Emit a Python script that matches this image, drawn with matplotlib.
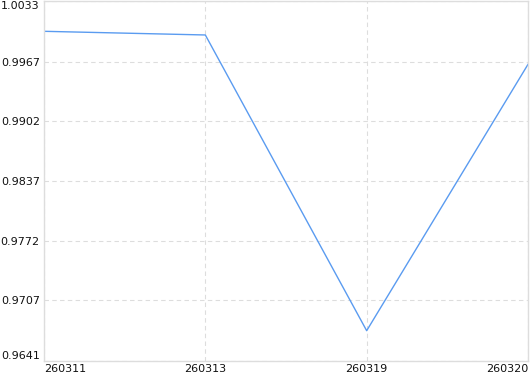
import matplotlib
matplotlib.use('Agg')
import matplotlib.pyplot as plt

dates = ['260311', '260313', '260319', '260320']
values = [1.0000, 0.9996, 0.9674, 0.9964]
yticks = [0.9641, 0.9707, 0.9772, 0.9837, 0.9902, 0.9967, 1.0033]

fig = plt.figure(figsize=(5.3, 3.74), dpi=100)
ax = fig.add_axes([44/530, 13/374, 484/530, 360/374])

x = list(range(len(dates)))
ax.plot(x, values, color='#5a9bf0', linewidth=1.0)

ax.set_xlim(0, len(dates) - 1)
ax.set_ylim(yticks[0], yticks[-1])
ax.set_xticks(x)
ax.set_xticklabels(dates)
ax.set_yticks(yticks)
ax.set_yticklabels([f'{t:.4f}' for t in yticks])

labels = ax.get_xticklabels()
labels[0].set_horizontalalignment('left')
labels[-1].set_horizontalalignment('right')
ylabels = ax.get_yticklabels()
ylabels[0].set_verticalalignment('bottom')
ylabels[-1].set_verticalalignment('top')

ax.tick_params(length=0, labelsize=8, colors='#111111', pad=3)
ax.tick_params(axis='x', pad=2)
ax.grid(True, color='#dddddd', linestyle=(0, (4, 3)), linewidth=0.8)
for s in ax.spines.values():
    s.set_color('#dddddd')
    s.set_linewidth(1.0)

fig.savefig('out.png', dpi=100)
